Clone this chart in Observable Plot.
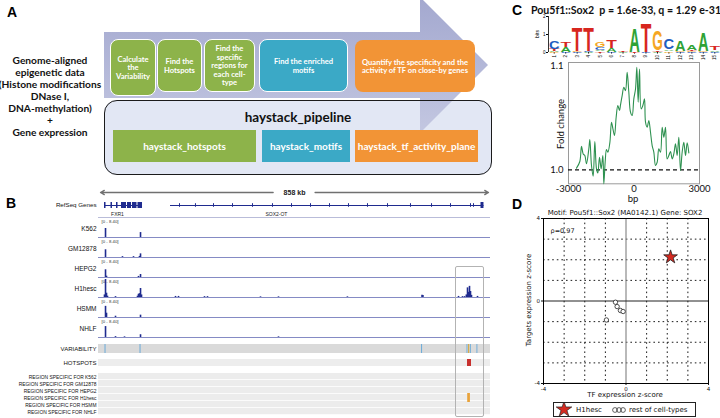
<!DOCTYPE html>
<html>
<head>
<meta charset="utf-8">
<script src="https://cdn.jsdelivr.net/npm/d3@7"></script>
<script src="https://cdn.jsdelivr.net/npm/@observablehq/plot@0.6"></script>
<style>
html,body{margin:0;padding:0;background:#fff;}
#fig{position:relative;width:720px;height:418px;overflow:hidden;background:#fff;}
.t{position:absolute;white-space:pre;line-height:1;width:max-content;}
.box{position:absolute;box-sizing:border-box;display:flex;align-items:center;justify-content:center;text-align:center;color:#fff;font-family:Lato,'Open Sans',sans-serif;font-weight:bold;white-space:pre-line;}
</style>
</head>
<body>
<div id="fig"></div>
<script>
// ================= DATA =================
// Panel A (schematic)
const inputLines = ["Genome-aligned","epigenetic data","(Histone modifications","DNase I,","DNA-methylation)","+","Gene expression"];
const stepLabels = ["Calculate\nthe\nVariability","Find the\nHotspots","Find the\nspecific\nregions  for\neach cell-\ntype","Find the enriched\nmotifs","Quantify the specificity and the\nactivity of TF on close-by genes"];
const stepGroups = ["hotspots","hotspots","hotspots","motifs","tf"];
const pipelineTitle = "haystack_pipeline";
const toolLabels = ["haystack_hotspots","haystack_motifs","haystack_tf_activity_plane"];

// Panel B (genome browser, positions in kb)
const regionKb = 858;
const scaleLabel = "858 kb";
const fxr1Exons = [[8.85,12.2],[23.2,26.5],[35.4,38.7],[46.4,57.5],[59.7,68.6],[70.8,80.7],[82.9,92.9]];
const sox2otSpan = [154.8, 848];
const sox2otExons = [174.7,210,249.9,291.9,336.1,380.3,422.4,464.4,506.4,548.4,590.4,634.7,685.5,732,774,818.2,824.8];
const sox2otLastExon = [841.4, 848];
const geneNames = ["FXR1","SOX2-OT"];
const geneLabelKb = [37.6, 389];
const refseqLabel = "RefSeq Genes";
const cellTypes = ["K562","GM12878","HEPG2","H1hesc","HSMM","NHLF"];
const signalMax = 8.4;
const signalRange = "[0 - 8.40]";
const peaksK562 = [[11.1,4.2],[88.5,2.3]];
const peaksGM12878 = [[11.1,3.6],[48.6,0.4],[73,0.4],[86.2,0.5],[88.5,1.7]];
const peaksHEPG2 = [[11.1,3.6],[13.3,0.6],[84,0.5],[88.5,1.4]];
const peaksH1hesc = [[8.8,1.2],[11.1,8.4],[13.3,2.0],[15.5,0.6],[33.2,0.4],[81.8,0.6],[84,1.5],[86.2,1.8],[88.5,4.2],[90.7,1.2],[165.9,0.5],[172.5,0.5],[230,0.4],[236.6,0.4],[353.8,0.3],[393.6,0.3],[546,0.3],[711,1.1],[713,0.9],[791.7,0.5],[800.5,0.4],[805,0.4],[809,1.2],[811.6,4.5],[813.8,2.4],[816,5.2],[818.2,2.8],[820.4,1.0],[833.7,0.5]];
const peaksHSMM = [[11.1,5.2],[13.3,2.0],[33.2,0.6],[88.5,1.1]];
const peaksNHLF = [[11.1,5.1],[33.2,0.4],[53.1,0.3],[88.5,1.3],[393.6,0.3]];
const variabilityLabel = "VARIABILITY";
const hotspotsLabel = "HOTSPOTS";
const variabilityBlue = [[10,12.2],[87.4,89.6],[710,712.2],[810.5,812.5],[818,820],[832.5,834.5]];
const variabilityOchre = [[814,816.5]];
const hotspotRegions = [[811.6,820.4]];
const h1hescSpecific = [[812,818]];
const highlightKb = [785, 849];

// Panel C
const motifTitle = "Pou5f1::Sox2  p = 1.6e-33, q = 1.29 e-31";
const logoPositions = [1,2,3,4,5,6,7,8,9,10,11,12,13,14,15];
const logoA = [0.06,0.25,0.00,0.05,0.08,0.20,0.03,1.35,0.00,0.05,0.10,0.58,0.30,1.05,0.08];
const logoC = [0.42,0.05,0.05,0.05,0.15,0.05,0.00,0.00,0.05,0.00,0.60,0.05,0.05,0.05,0.04];
const logoG = [0.03,0.00,0.05,0.00,0.25,0.00,0.00,0.00,0.00,1.10,0.08,0.05,0.05,0.05,0.00];
const logoT = [0.12,0.32,1.35,1.30,0.07,0.45,0.03,0.05,1.65,0.10,0.00,0.00,0.05,0.00,0.20];
const foldBp = [-2634,-2481,-2405,-2328,-2252,-2176,-2069,-2023,-1947,-1870,-1794,-1718,-1656,-1580,-1504,-1427,-1382,-1321,-1260,-1198,-1107,-1031,-970,-893,-817,-740,-664,-618,-542,-466,-389,-313,-237,-160,-84,-8,69,130,191,252,328,405,481,527,603,679,756,832,908,985,1061,1137,1214,1290,1366,1443,1519,1595,1672,1748,1824,1901,1977,2053,2130,2206,2282,2359,2435,2511];
const foldValue = [1.0016,1.0080,1.0227,1.0153,1.0137,1.0058,1.0201,1.0291,1.0042,0.9939,1.0272,1.0010,0.9971,1.0121,1.0010,1.0137,0.9866,1.0073,1.0195,1.0169,1.0259,1.0457,1.0399,1.0329,1.0505,1.0617,1.0569,1.0623,1.0712,1.0792,1.0760,1.0936,1.0744,1.0553,1.0521,1.0681,1.0776,1.0984,1.0649,1.0968,1.0585,1.0617,1.0681,1.0457,1.0409,1.0473,1.0361,1.0233,1.0169,1.0042,1.0073,1.0201,1.0169,1.0409,1.0313,1.0409,1.0105,1.0137,1.0176,1.0105,1.0153,1.0249,1.0137,1.0313,0.9994,1.0169,1.0265,1.0137,1.0259,1.0163];
const foldXTicks = [-3000,0,3000];
const foldYTicks = [1.0,1.1];
const foldXLabel = "bp";
const foldYLabel = "Fold change";

// Panel D
const scatterTitle = "Motif: Pou5f1::Sox2 (MA0142.1) Gene: SOX2";
const zTicks = [-4,0,4];
const zGrid = [-3,-2,-1,1,2,3];
const rhoLabel = "\u03c1=0.97";
const starX = [2.16], starY = [2.13];
const otherX = [-0.51,-0.43,-0.27,-0.14,-0.95];
const otherY = [-0.06,-0.27,-0.46,-0.51,-0.92];
const scatterXLabel = "TF expression z-score";
const scatterYLabel = "Targets expression z-score";
const legendLabels = ["H1hesc","rest of cell-types"];

// ================= HELPERS =================
const fig = document.getElementById("fig");
function txt(s, x, y, css, rot) {
  const d = document.createElement("div");
  d.className = "t"; d.textContent = s;
  d.style.left = x + "px"; d.style.top = y + "px";
  d.style.transform = "translate(-50%,-50%)" + (rot ? ` rotate(${rot}deg)` : "");
  Object.assign(d.style, css || {});
  fig.appendChild(d); return d;
}
function div(x, y, w, h, css, cls) {
  const d = document.createElement("div");
  if (cls) d.className = cls;
  Object.assign(d.style, {position:"absolute", left:x+"px", top:y+"px", width:w+"px", height:h+"px", boxSizing:"border-box"}, css || {});
  fig.appendChild(d); return d;
}
function put(svg, x, y) {
  Object.assign(svg.style, {position:"absolute", left:x+"px", top:y+"px", background:"transparent", maxWidth:"none", overflow:"visible"});
  fig.appendChild(svg); return svg;
}
const SANS = "'Liberation Sans', Arial, sans-serif";
const LATO = "Lato, 'Open Sans', sans-serif";
const DJV = "'DejaVu Sans', sans-serif";
const NAVY = "#1f2b8f";

// ================= PANEL A =================
const GREEN = "#8db34a", BLUE = "#3ba9c6", ORANGE = "#f29436";
const groupColor = {hotspots: GREEN, motifs: BLUE, tf: ORANGE};
txt("A", 12, 12, {font:`bold 14px ${SANS}`});
const inp = div(-4, 54, 108, 90, {textAlign:"center", font:`bold 10.2px ${LATO}`, lineHeight:"12px", color:"#111", whiteSpace:"pre"});
inp.textContent = inputLines.join("\n");
div(104, 100, 388, 75, {background:"#e2e7f4", borderRadius:"13px"});
div(104, -3, 386, 136, {background:"linear-gradient(180deg,#a3a8cf,#c3c7e1)", clipPath:"polygon(0px 35px, 316px 35px, 316px 0px, 384px 68px, 316px 136px, 316px 101px, 0px 101px)"});
div(104, 100, 388, 75, {border:"1.6px solid #1b1b1b", borderRadius:"13px"});
const stepGeom = [[110,39,46,57],[157,39,45,53],[204,39,51,53],[259,39,89,53],[355,40,120,52]];
stepLabels.forEach((s, i) => {
  const [x, y, w, h] = stepGeom[i];
  const b = div(x, y, w, h, {background: groupColor[stepGroups[i]], border: i < 4 ? "1.5px solid #fff" : "none", borderRadius:"8px", fontSize:"7.6px", lineHeight:"1.12", padding:"1px"}, "box");
  b.textContent = s;
});
const toolGeom = [[113,130,143,32],[262,130,88,32],[355,130,123,32]];
const toolColors = [GREEN, BLUE, ORANGE];
toolLabels.forEach((s, i) => {
  const [x, y, w, h] = toolGeom[i];
  const b = div(x, y, w, h, {background: toolColors[i], fontSize:"10px"}, "box");
  b.textContent = s;
});
txt(pipelineTitle, 298, 117, {font:`bold 13.5px ${LATO}`, color:"#111"});

// ================= PANEL B =================
txt("B", 11, 203, {font:`bold 14px ${SANS}`});
const pxPerKb = 388 / regionKb;
const kbDomain = [-2 / pxPerKb, 390 / pxPerKb];
const kbToPx = d3.scaleLinear(kbDomain, [98, 490]);
const base = {width: 490, marginLeft: 98, marginRight: 0, x: {domain: kbDomain, axis: null},
  style: {background: "transparent", fontFamily: SANS}};

// scale bar
const scaleArrows = [{from: regionKb * 0.445, to: 0}, {from: regionKb * 0.553, to: regionKb}];
put(Plot.plot({...base, height: 12, marginTop: 0, marginBottom: 0, y: {domain: [-1, 1], axis: null},
  marks: [
    Plot.arrow(scaleArrows, {x1: "from", x2: "to", y1: 0, y2: 0, stroke: "#707070", strokeWidth: 1.3, headLength: 5}),
    Plot.text([scaleLabel], {x: regionKb / 2, y: 0, fontSize: 7, fontWeight: "bold", fill: "#222"})
  ]}), 0, 186);

// RefSeq genes
const fxr1Span = [fxr1Exons[0][0], fxr1Exons[fxr1Exons.length - 1][1]];
put(Plot.plot({...base, height: 22, marginTop: 0, marginBottom: 6, y: {domain: ["genes"], axis: null, padding: 0},
  marks: [
    Plot.ruleY([fxr1Span, sox2otSpan], {y: () => "genes", x1: d => d[0], x2: d => d[1], stroke: NAVY, strokeWidth: 1}),
    Plot.barX(fxr1Exons.concat([sox2otLastExon]), {x1: d => d[0], x2: d => d[1], y: () => "genes", fill: NAVY, insetTop: 5, insetBottom: 5}),
    Plot.tickX(sox2otExons, {x: d => d, y: () => "genes", stroke: NAVY, strokeWidth: 1, insetTop: 6.2, insetBottom: 6.2}),
    Plot.text(geneNames, {x: (d, i) => geneLabelKb[i], y: () => "genes", dy: 9, fontSize: 5, fill: "#222"}),
    Plot.text([refseqLabel], {frameAnchor: "left", textAnchor: "end", dx: -2, fontSize: 6.2, fill: "#111"})
  ]}), 0, 197);
div(98, 217, 392, 1, {background: "#b9bcd9"});

// signal tracks
const peakSets = [peaksK562, peaksGM12878, peaksHEPG2, peaksH1hesc, peaksHSMM, peaksNHLF];
cellTypes.forEach((c, i) => {
  put(Plot.plot({...base, height: 21, marginTop: 2, marginBottom: 1, y: {domain: [0, signalMax], axis: null},
    marks: [
      Plot.ruleY([0], {stroke: "#858bc4", strokeWidth: 1.1}),
      Plot.ruleX(peakSets[i], {x: d => d[0], y1: 0, y2: d => d[1], stroke: NAVY, strokeWidth: 1.6}),
      Plot.text([signalRange], {frameAnchor: "top-left", dx: 3, dy: 0.5, fontSize: 4.3, fill: "#333", lineAnchor: "top"}),
      Plot.text([c], {frameAnchor: "left", textAnchor: "end", dx: -2, fontSize: 6.5, fill: "#111"})
    ]}), 0, 217 + i * 20);
});

// variability / hotspots / region-specific bands
const specRows = cellTypes.map(c => "REGION SPECIFIC FOR " + c);
const bandRows = [variabilityLabel, "\u00b71", hotspotsLabel, "\u00b72", ...specRows];
put(Plot.plot({...base, height: 78, marginTop: 3.9, marginBottom: 1.6, y: {domain: bandRows, axis: null, padding: 0},
  marks: [
    Plot.barX([variabilityLabel], {y: d => d, x1: kbDomain[0], x2: kbDomain[1], fill: "#dadada", insetTop: -1, insetBottom: -1}),
    Plot.barX([hotspotsLabel], {y: d => d, x1: kbDomain[0], x2: kbDomain[1], fill: "#ededed"}),
    Plot.barX(specRows, {y: d => d, x1: kbDomain[0], x2: kbDomain[1], fill: "#ececec", insetBottom: 0.8}),
    Plot.barX(variabilityBlue, {x1: d => d[0], x2: d => d[1], y: () => variabilityLabel, fill: "#6aaad8", insetTop: -1, insetBottom: -1}),
    Plot.barX(variabilityOchre, {x1: d => d[0], x2: d => d[1], y: () => variabilityLabel, fill: "#d6a63c", insetTop: -1, insetBottom: -1}),
    Plot.barX(hotspotRegions, {x1: d => d[0], x2: d => d[1], y: () => hotspotsLabel, fill: "#c8302e"}),
    Plot.barX(h1hescSpecific, {x1: d => d[0], x2: d => d[1], y: () => specRows[3], fill: "#e8a23a", insetTop: -1, insetBottom: -1}),
    Plot.text([variabilityLabel, hotspotsLabel], {y: d => d, frameAnchor: "left", textAnchor: "end", dx: -2, fontSize: 6, fill: "#111"}),
    Plot.text(specRows, {y: d => d, frameAnchor: "left", textAnchor: "end", dx: -2, fontSize: 4.9, fill: "#111"})
  ]}), 0, 340);
div(kbToPx(highlightKb[0]), 266, kbToPx(highlightKb[1]) - kbToPx(highlightKb[0]), 151, {border: "1.5px solid #b3b3b3", borderRadius: "2px"});

// ================= PANEL C =================
txt("C", 517, 10, {font:`bold 14px ${SANS}`});
txt(motifTitle, 626, 10, {font:`bold 10.6px ${LATO}`, color:"#111"});
const letters = [];
logoPositions.forEach((p, k) => {
  const stack = [["A", logoA[k]], ["C", logoC[k]], ["G", logoG[k]], ["T", logoT[k]]].filter(d => d[1] > 0).sort((a, b) => a[1] - b[1]);
  let y0 = 0;
  for (const [b, h] of stack) { letters.push({pos: p, base: b, y0, h}); y0 += h; }
});
const F = 20;
const logo = Plot.plot({width: 190, height: 62, marginLeft: 18, marginRight: 0, marginTop: 16, marginBottom: 10,
  x: {domain: [0.5, 15.5], ticks: logoPositions, tickSize: 1.5, tickPadding: 1, tickRotate: -90, tickFormat: d => String(d), label: null},
  y: {domain: [0, 2], ticks: [0, 1, 2], tickSize: 2, tickPadding: 1, tickFormat: d => String(d), label: null},
  color: {domain: ["A", "C", "G", "T"], range: ["#2fa336", "#1f5dbf", "#f5a623", "#d7261e"]},
  style: {background: "transparent", fontFamily: SANS, fontSize: "4.5px"},
  marks: [
    Plot.text(letters, {x: "pos", y: "y0", text: "base", fill: "base", fontSize: F, fontWeight: "bold", fontFamily: SANS, lineAnchor: "bottom"}),
    Plot.ruleX([0.5], {stroke: "#000", strokeWidth: 0.8})
  ]});
{
  const sx = logo.scale("x"), sy = logo.scale("y");
  const X = d3.scaleLinear(sx.domain, sx.range), Y = d3.scaleLinear(sy.domain, sy.range);
  const widths = {A: 0.722, C: 0.722, G: 0.778, T: 0.611};
  const texts = logo.querySelectorAll('g[aria-label="text"] text');
  texts.forEach((t, i) => {
    const d = letters[i];
    if (!d) return;
    const px = X(d.pos), pb = Y(d.y0), pt = Y(d.y0 + d.h);
    const scx = 10.6 / (widths[d.base] * F), scy = Math.max(pb - pt, 0.3) / (0.716 * F);
    t.setAttribute("x", 0); t.setAttribute("y", 0); t.setAttribute("dy", 0);
    t.setAttribute("transform", `translate(${px},${pb}) scale(${scx},${scy})`);
  });
}
put(logo, 530, 0);
txt("bits", 537, 34, {font:`5px ${SANS}`}, -90);

const foldData = foldBp.map((x, i) => ({bp: x, fc: foldValue[i]}));
put(Plot.plot({width: 200, height: 150, marginLeft: 48, marginRight: 21, marginTop: 7, marginBottom: 21.7,
  x: {domain: [-3000, 3000], ticks: foldXTicks, tickSize: 0, tickPadding: 1, tickFormat: d => String(d), label: null},
  y: {domain: [0.9866, 1.103], ticks: foldYTicks, tickSize: 0, tickPadding: 5, tickFormat: ".1f", label: null},
  style: {background: "transparent", fontFamily: LATO, fontSize: "9.5px", color: "#111"},
  marks: [
    Plot.frame({stroke: "#9a9a9a"}),
    Plot.ruleY([1.0], {stroke: "#111", strokeWidth: 1.4, strokeDasharray: "4,3"}),
    Plot.line(foldData, {x: "bp", y: "fc", stroke: "#2e9150", strokeWidth: 1.1, curve: "catmull-rom"})
  ]}), 520, 55);
txt(foldXLabel, 633, 198, {font:`9.5px ${LATO}`, color:"#111"});
txt(foldYLabel, 560, 124, {font:`9.5px ${LATO}`, color:"#111"}, -90);

// ================= PANEL D =================
txt("D", 517, 204, {font:`bold 14px ${SANS}`});
txt(scatterTitle, 625, 213, {font:`7px ${DJV}`, color:"#111"});
put(Plot.plot({width: 220, height: 200, marginLeft: 43, marginRight: 12, marginTop: 13, marginBottom: 22,
  x: {domain: [-4, 4], ticks: zTicks, tickSize: 2, tickPadding: 1.5, tickFormat: d => String(d), label: null},
  y: {domain: [-4, 4], ticks: zTicks, tickSize: 2, tickPadding: 1.5, tickFormat: d => String(d), label: null},
  style: {background: "transparent", fontFamily: DJV, fontSize: "5.5px", color: "#111"},
  marks: [
    Plot.ruleX(zGrid, {stroke: "#000", strokeWidth: 0.9, strokeDasharray: "1.6,3"}),
    Plot.ruleY(zGrid, {stroke: "#000", strokeWidth: 0.9, strokeDasharray: "1.6,3"}),
    Plot.ruleX([0], {stroke: "#8a8a8a", strokeWidth: 1.2}),
    Plot.ruleY([0], {stroke: "#222", strokeWidth: 1}),
    Plot.frame({stroke: "#000", strokeWidth: 1}),
    Plot.text([rhoLabel], {frameAnchor: "top-left", dx: 7, dy: 10, fontSize: 6.5, textAnchor: "start", fill: "#111"}),
    Plot.dot(otherX.map((x, i) => ({x, y: otherY[i]})), {x: "x", y: "y", r: 2.2, stroke: "#222", fill: "#fff", strokeWidth: 0.8}),
    Plot.dot(starX.map((x, i) => ({x, y: starY[i]})), {x: "x", y: "y", symbol: "star", r: 4.3, fill: "#d62a20", stroke: "#222", strokeWidth: 0.8})
  ]}), 500, 205);
txt(scatterXLabel, 625, 395, {font:`7px ${DJV}`, color:"#111"});
txt(scatterYLabel, 529, 300, {font:`7px ${DJV}`, color:"#111"}, -90);
const leg = div(553, 402, 143, 15, {border: "1px solid #222", background: "#fff"});
leg.innerHTML = `<svg width="141" height="13" style="position:absolute;left:0;top:0" font-family="DejaVu Sans, sans-serif" font-size="7" fill="#111">
<path transform="translate(10,6.5)" d="${d3.symbol(d3.symbolStar, 75)()}" fill="#d62a20" stroke="#222" stroke-width="0.7"/>
<text x="22" y="9.3">${legendLabels[0]}</text>
<circle cx="61" cy="7" r="2.4" fill="none" stroke="#222" stroke-width="0.7"/>
<circle cx="65" cy="7" r="2.4" fill="none" stroke="#222" stroke-width="0.7"/>
<circle cx="69" cy="7" r="2.4" fill="none" stroke="#222" stroke-width="0.7"/>
<text x="75" y="9.3">${legendLabels[1]}</text></svg>`;
</script>
</body>
</html>
